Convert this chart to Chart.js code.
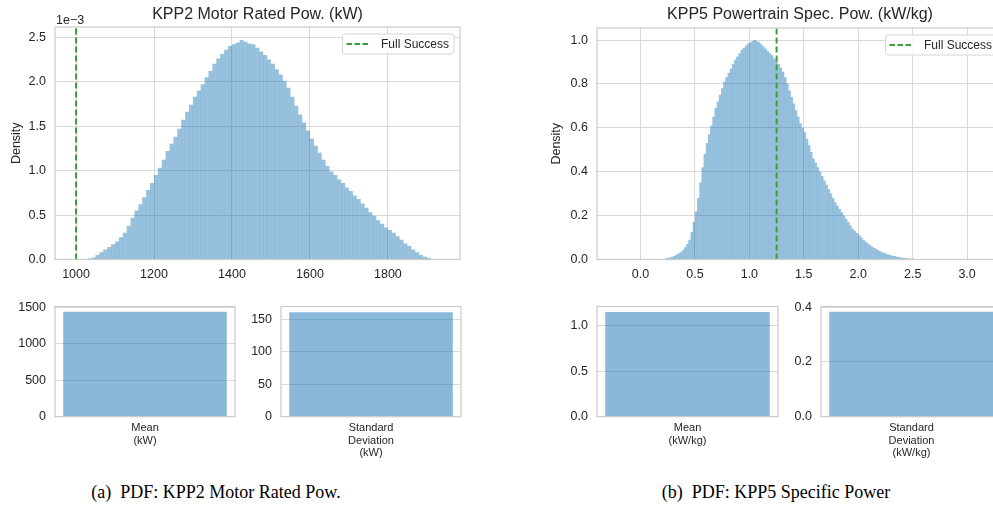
<!DOCTYPE html>
<html>
<head>
<meta charset="utf-8">
<script src="https://cdn.jsdelivr.net/npm/chart.js@4.4.1/dist/chart.umd.min.js"></script>
<style>
	html, body { margin: 0; padding: 0; background: #fff; }
	#fig { position: relative; width: 993px; height: 508px; overflow: hidden; }
	#fig canvas { position: absolute; }
	.cap { position: absolute; font-family: "Liberation Serif", "Times New Roman", serif; font-size: 18px; line-height: 18px; color: #000; white-space: pre; transform: translateX(-50%); }
</style>
</head>
<body>
<div id="fig">
	<canvas id="histMotor"></canvas>
	<canvas id="meanMotor"></canvas>
	<canvas id="stdMotor"></canvas>
	<canvas id="histSpec"></canvas>
	<canvas id="meanSpec"></canvas>
	<canvas id="stdSpec"></canvas>
	<div class="cap" style="left:216px; top:483px">(a)  PDF: KPP2 Motor Rated Pow.</div>
	<div class="cap" style="left:776px; top:483px">(b)  PDF: KPP5 Specific Power</div>
</div>
<script>
// (a) KPP2 motor rated power - histogram, 10 kW bins from 1020 kW, density in units of 1e-3
const motorBinStart = 1020;
const motorBinWidth = 10;
const motorDensity = [
	0.003, 0.01, 0.02, 0.05, 0.08, 0.11, 0.14, 0.17, 0.20, 0.25,
	0.30, 0.38, 0.47, 0.55, 0.62, 0.70, 0.78, 0.86, 0.95, 1.03,
	1.12, 1.22, 1.30, 1.38, 1.47, 1.57, 1.66, 1.74, 1.83, 1.90,
	1.97, 2.05, 2.12, 2.20, 2.26, 2.31, 2.36, 2.40, 2.42, 2.44,
	2.47, 2.45, 2.43, 2.42, 2.38, 2.34, 2.30, 2.25, 2.20, 2.14,
	2.08, 2.01, 1.93, 1.83, 1.73, 1.63, 1.54, 1.45, 1.36, 1.28,
	1.20, 1.12, 1.05, 0.99, 0.95, 0.90, 0.86, 0.81, 0.77, 0.72,
	0.68, 0.63, 0.58, 0.53, 0.49, 0.44, 0.40, 0.36, 0.33, 0.30,
	0.26, 0.22, 0.18, 0.15, 0.11, 0.08, 0.05, 0.03, 0.015, 0.005, 0.002,
];
const motorFullSuccess = 1000;
const motorXTicks = [1000, 1200, 1400, 1600, 1800];
const motorYTicks = [0, 0.5, 1, 1.5, 2, 2.5];
const motorYTickLabels = ['0.0', '0.5', '1.0', '1.5', '2.0', '2.5'];
const motorStatLabels = [['Mean', '(kW)'], ['Standard', 'Deviation', '(kW)']];
const motorMean = 1440;
const motorStd = 161;
const motorMeanTicks = [0, 500, 1000, 1500];
const motorStdTicks = [0, 50, 100, 150];

// (b) KPP5 powertrain specific power - histogram, 0.02 kW/kg bins from 0.20
const specBinStart = 0.20;
const specBinWidth = 0.02;
const specDensity = [
	0.002, 0.004, 0.006, 0.009, 0.012, 0.016, 0.021, 0.027, 0.034, 0.043,
	0.055, 0.07, 0.09, 0.125, 0.17, 0.22, 0.28, 0.35, 0.42, 0.48,
	0.53, 0.57, 0.61, 0.65, 0.69, 0.72, 0.75, 0.78, 0.81, 0.83,
	0.85, 0.87, 0.89, 0.91, 0.925, 0.94, 0.955, 0.965, 0.975, 0.985,
	0.99, 0.995, 1.0, 0.995, 0.99, 0.98, 0.97, 0.96, 0.95, 0.94,
	0.93, 0.915, 0.905, 0.89, 0.875, 0.855, 0.83, 0.80, 0.77, 0.74,
	0.71, 0.68, 0.65, 0.62, 0.60, 0.58, 0.55, 0.52, 0.49, 0.46,
	0.44, 0.42, 0.40, 0.38, 0.36, 0.34, 0.32, 0.30, 0.28, 0.26,
	0.245, 0.23, 0.215, 0.20, 0.185, 0.17, 0.155, 0.14, 0.13, 0.12,
	0.11, 0.10, 0.09, 0.08, 0.072, 0.065, 0.058, 0.052, 0.046, 0.041,
	0.036, 0.032, 0.028, 0.024, 0.021, 0.018, 0.015, 0.013, 0.011, 0.009,
	0.008, 0.006, 0.005, 0.004, 0.003, 0.0025, 0.002, 0.0015, 0.001, 0.0008,
	0.0005, 0.0003, 0.0002, 0.0001, 0.0001,
];
const specFullSuccess = 1.25;
const specXTicks = [0, 0.5, 1, 1.5, 2, 2.5, 3];
const specXTickLabels = ['0.0', '0.5', '1.0', '1.5', '2.0', '2.5', '3.0'];
const specYTicks = [0, 0.2, 0.4, 0.6, 0.8, 1.0];
const specYTickLabels = ['0.0', '0.2', '0.4', '0.6', '0.8', '1.0'];
const specStatLabels = [['Mean', '(kW/kg)'], ['Standard', 'Deviation', '(kW/kg)']];
const specMean = 1.15;
const specStd = 0.383;
const specMeanTicks = [0, 0.5, 1.0];
const specMeanTickLabels = ['0.0', '0.5', '1.0'];
const specStdTicks = [0, 0.2, 0.4];
const specStdTickLabels = ['0.0', '0.2', '0.4'];

const FONT = '"Liberation Sans", Arial, sans-serif';
const TEXT = '#262626';
const GRID = '#d9d9d9';
const SPINE = '#cccccc';
const GREEN = '#3a9f3a';
const HIST_FILL = 'rgba(31, 119, 180, 0.46)';
const BAR_FILL = 'rgba(31, 119, 180, 0.52)';

// matplotlib-ish frame, offset text and an in-axes legend box
const decor = {
	id: 'decor',
	afterDatasetsDraw(chart, args, opts) {
		const { ctx, chartArea: a } = chart;
		ctx.save();
		ctx.strokeStyle = SPINE;
		ctx.lineWidth = 1.25;
		ctx.strokeRect(a.left, a.top, a.width, a.height);
		if (opts.offsetText) {
			ctx.fillStyle = TEXT;
			ctx.font = `12.5px ${FONT}`;
			ctx.textAlign = 'left';
			ctx.textBaseline = 'alphabetic';
			ctx.fillText(opts.offsetText, a.left + 1, a.top - 3);
		}
		if (opts.legend) {
			ctx.font = `12px ${FONT}`;
			const tw = ctx.measureText(opts.legend).width;
			const w = 43.5 + tw, h = 20;
			const x0 = a.right - 6 - w, y0 = a.top + 7;
			ctx.beginPath();
			ctx.roundRect(x0, y0, w, h, 3);
			ctx.fillStyle = 'rgba(255,255,255,0.8)';
			ctx.fill();
			ctx.strokeStyle = '#d4d4d4';
			ctx.lineWidth = 1;
			ctx.stroke();
			ctx.beginPath();
			ctx.setLineDash([5.5, 2.5]);
			ctx.strokeStyle = GREEN;
			ctx.lineWidth = 2;
			ctx.moveTo(x0 + 4, y0 + h / 2);
			ctx.lineTo(x0 + 27.5, y0 + h / 2);
			ctx.stroke();
			ctx.setLineDash([]);
			ctx.fillStyle = TEXT;
			ctx.textAlign = 'left';
			ctx.textBaseline = 'middle';
			ctx.fillText(opts.legend, x0 + 38.5, y0 + h / 2 + 0.5);
		}
		ctx.restore();
	},
};

function place(id, box) {
	const cv = document.getElementById(id);
	cv.width = box.w;
	cv.height = box.h;
	cv.style.left = box.x + 'px';
	cv.style.top = box.y + 'px';
	return cv;
}

const tickFont = { family: FONT, size: 12.5 };

function histChart(id, o) {
	const { area } = o;
	const side = area.left - o.x;
	const box = { x: o.x, y: 0, w: 2 * side + (area.right - area.left), h: o.h };
	const cv = place(id, box);
	const bins = o.density.map((d, i) => ({ x: o.binStart + (i + 0.5) * o.binWidth, y: d }));
	return new Chart(cv, {
		type: 'bar',
		data: {
			datasets: [
				{ type: 'bar', data: bins, backgroundColor: HIST_FILL, borderWidth: 0, inflateAmount: 0.1,
					barPercentage: 1, categoryPercentage: 1, order: 2 },
				{ type: 'line', label: 'Full Success', data: [{ x: o.target, y: 0 }, { x: o.target, y: o.yMax }],
					borderColor: GREEN, borderWidth: 2, borderDash: [6, 3], pointRadius: 0, fill: false, order: 1 },
			],
		},
		options: {
			responsive: false,
			animation: false,
			devicePixelRatio: 1,
			layout: { padding: { top: o.padTop, left: 0, right: 0, bottom: 0 } },
			plugins: {
				legend: { display: false },
				tooltip: { enabled: false },
				title: { display: true, text: o.title, color: TEXT, font: { family: FONT, size: 16, weight: 'normal', lineHeight: 1.2 },
					padding: { top: 0, bottom: area.top - o.padTop - 19.2 } },
				decor: { offsetText: o.offsetText, legend: 'Full Success' },
			},
			scales: {
				x: {
					type: 'linear', min: o.xMin, max: o.xMax, offset: false,
					grid: { color: GRID, offset: false, drawTicks: false, lineWidth: 1 },
					border: { display: false },
					ticks: { color: TEXT, font: tickFont, padding: 8, maxRotation: 0, autoSkip: false,
						callback: (v, i) => o.xTickLabels[i] },
					afterBuildTicks: s => { s.ticks = o.xTicks.map(value => ({ value })); },
					afterFit: s => { s.height = box.h - area.bottom; },
				},
				y: {
					min: 0, max: o.yMax,
					grid: { color: GRID, drawTicks: false, lineWidth: 1 },
					border: { display: false },
					ticks: { color: TEXT, font: tickFont, padding: 9, callback: (v, i) => o.yTickLabels[i] },
					afterBuildTicks: s => { s.ticks = o.yTicks.map(value => ({ value })); },
					title: { display: true, text: 'Density', color: TEXT, font: { family: FONT, size: 12.5 }, padding: { top: o.labelX - 7.5, bottom: 0 } },
					afterFit: s => { s.width = side; },
				},
				yR: {
					position: 'right', display: true,
					grid: { display: false }, border: { display: false }, ticks: { display: false },
					afterFit: s => { s.width = side; },
				},
			},
		},
		plugins: [decor],
	});
}

function statChart(id, o) {
	const { area, box } = o;
	const cv = place(id, box);
	return new Chart(cv, {
		type: 'bar',
		data: {
			labels: [o.label],
			datasets: [{ data: [o.value], backgroundColor: BAR_FILL, borderWidth: 0, barPercentage: 0.909, categoryPercentage: 1 }],
		},
		options: {
			responsive: false,
			animation: false,
			devicePixelRatio: 1,
			layout: { padding: { top: area.top - box.y, right: box.x + box.w - area.right, left: 0, bottom: 0 } },
			plugins: { legend: { display: false }, tooltip: { enabled: false }, decor: {} },
			scales: {
				x: {
					grid: { display: false, drawTicks: false }, border: { display: false },
					ticks: { color: TEXT, font: { family: FONT, size: 11, lineHeight: 1.15 }, padding: 5, maxRotation: 0, autoSkip: false },
					afterFit: s => { s.height = box.y + box.h - area.bottom; },
				},
				y: {
					min: 0, max: o.yMax,
					grid: { color: GRID, drawTicks: false, lineWidth: 1 },
					border: { display: false },
					ticks: { color: TEXT, font: tickFont, padding: 9, callback: (v, i) => o.tickLabels[i] },
					afterBuildTicks: s => { s.ticks = o.ticks.map(value => ({ value })); },
					afterFit: s => { s.width = area.left - box.x; },
				},
			},
		},
		plugins: [decor],
	});
}

histChart('histMotor', {
	x: 0, h: 290, padTop: 5.4,
	area: { left: 55, top: 27, right: 460, bottom: 259.5 },
	labelX: 16.7,
	title: 'KPP2 Motor Rated Pow. (kW)', offsetText: '1e\u22123',
	binStart: motorBinStart, binWidth: motorBinWidth, density: motorDensity, target: motorFullSuccess,
	xMin: 946, xMax: 1985, xTicks: motorXTicks, xTickLabels: motorXTicks.map(String),
	yMax: 2.616, yTicks: motorYTicks, yTickLabels: motorYTickLabels,
});

histChart('histSpec', {
	x: 520, h: 290, padTop: 4.9,
	area: { left: 597, top: 28, right: 1003, bottom: 259.5 },
	labelX: 37,
	title: 'KPP5 Powertrain Spec. Pow. (kW/kg)', offsetText: '',
	binStart: specBinStart, binWidth: specBinWidth, density: specDensity, target: specFullSuccess,
	xMin: -0.40, xMax: 3.33, xTicks: specXTicks, xTickLabels: specXTickLabels,
	yMax: 1.055, yTicks: specYTicks, yTickLabels: specYTickLabels,
});

statChart('meanMotor', {
	box: { x: 0, y: 290, w: 250, h: 190 }, area: { left: 55, top: 301.7, right: 235, bottom: 416.7 },
	label: motorStatLabels[0], value: motorMean, yMax: 1512,
	ticks: motorMeanTicks, tickLabels: motorMeanTicks.map(String),
});
statChart('stdMotor', {
	box: { x: 250, y: 290, w: 225, h: 190 }, area: { left: 281, top: 301.7, right: 461, bottom: 416.7 },
	label: motorStatLabels[1], value: motorStd, yMax: 170,
	ticks: motorStdTicks, tickLabels: motorStdTicks.map(String),
});
statChart('meanSpec', {
	box: { x: 530, y: 290, w: 262, h: 190 }, area: { left: 597, top: 301.7, right: 778, bottom: 416.7 },
	label: specStatLabels[0], value: specMean, yMax: 1.21,
	ticks: specMeanTicks, tickLabels: specMeanTickLabels,
});
statChart('stdSpec', {
	box: { x: 792, y: 290, w: 230, h: 190 }, area: { left: 821, top: 301.7, right: 1002, bottom: 416.7 },
	label: specStatLabels[1], value: specStd, yMax: 0.402,
	ticks: specStdTicks, tickLabels: specStdTickLabels,
});
</script>
</body>
</html>
